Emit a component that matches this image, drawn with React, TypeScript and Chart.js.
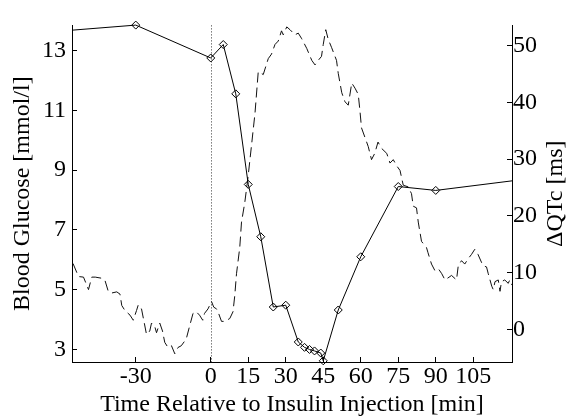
import { useEffect, useRef } from 'react';
import { Chart, registerables } from 'chart.js';

Chart.register(...registerables);

// ---- data ----
const GLUCOSE_T = [-55.5, -30, 0, 5, 10, 15, 20, 25, 30, 35, 37.5, 39.5, 41.5, 44, 45, 51, 60, 75, 90, 120.5];
const GLUCOSE_V = [13.68, 13.85, 12.75, 13.2, 11.55, 8.52, 6.77, 4.42, 4.48, 3.25, 3.07, 3.0, 2.95, 2.88, 2.62, 4.32, 6.1, 8.45, 8.32, 8.64];
const GLUCOSE_MARKER = [false, true, true, true, true, true, true, true, true, true, true, true, true, true, true, true, true, true, true, false];

const QTC_T = [
  -55.1, -52.9, -50.9, -48.9, -47.6, -46.2, -43.6, -42.3, -41.0, -39.6, -37.6, -36.3, -35.6, -34.3, -32.3, -31.0,
  -29.7, -29.0, -27.7, -26.8, -25.7, -24.4, -23.7, -22.4, -21.7, -20.4, -19.3, -18.4, -17.1, -15.7, -14.4, -13.1,
  -11.8, -9.8, -8.5, -7.1, -5.8, -4.5, -3.2, -2.5, -1.1, 0.3, 1.2, 2.3, 2.9, 4.3, 5.6, 7.6, 8.9, 9.6, 10.3, 11.6,
  12.3, 13.6, 14.9, 16.3, 17.7, 19.0, 21.0, 23.0, 24.3, 25.7, 27.0, 28.3, 29.0, 30.4, 31.7, 33.7, 35.0, 36.4, 38.4,
  40.4, 41.7, 43.0, 44.3, 45.0, 46.0, 47.0, 48.3, 50.3, 51.0, 52.4, 53.7, 55.0, 56.4, 57.7, 59.0, 59.7, 60.3, 61.7,
  63.0, 64.3, 65.6, 66.9, 68.3, 70.4, 71.7, 73.0, 74.4, 75.7, 77.0, 79.0, 80.3, 81.0, 82.3, 83.0, 84.3, 86.3, 86.9,
  88.3, 89.6, 91.0, 92.4, 93.7, 95.7, 96.3, 98.3, 99.0, 100.3, 101.6, 102.9, 104.3, 105.6, 106.9, 108.3, 108.9,
  110.3, 111.0, 112.4, 113.0, 113.7, 115.0, 115.7, 116.3, 117.6, 119.0, 119.6, 120.5
];
const QTC_V = [
  11.6, 9.3, 9.2, 7.0, 9.2, 9.2, 9.0, 8.6, 6.7, 6.4, 6.6, 6.2, 4.2, 3.3, 2.5, 1.6,
  3.3, 4.3, 3.6, 1.6, -0.9, -0.3, 1.1, 0.5, -0.6, 1.1, -0.3, -2.3, -3.2, -2.9, -4.3, -3.2,
  -2.9, -1.7, 0.5, 2.8, 3.1, 2.5, 1.6, 2.8, 3.6, 4.9, 3.9, 3.6, 3.1, 1.4, 1.4, 1.9, 3.1, 5.9, 9.8, 14.4,
  18.9, 22.3, 26.8, 32.4, 38.1, 45.4, 44.9, 47.7, 48.5, 50.2, 50.8, 52.6, 51.9, 53.3, 52.8, 51.9, 52.2, 51.2, 49.5,
  47.4, 46.6, 47.4, 48.1, 50.2, 52.8, 51.1, 49.7, 47.4, 45.1, 41.7, 40.1, 39.5, 43.4, 42.5, 41.4, 38.4, 35.5, 33.8,
  32.2, 29.9, 31.0, 33.0, 31.9, 31.0, 29.3, 29.9, 28.8, 28.0, 25.4, 25.1, 23.9, 21.7, 21.4, 18.9, 15.5, 14.4, 13.5,
  11.5, 10.4, 10.7, 9.8, 8.7, 9.3, 9.5, 8.7, 11.2, 12.1, 11.5, 12.4, 13.2, 14.1, 13.2, 11.8, 11.2,
  11.0, 9.8, 7.6, 7.0, 8.4, 8.7, 6.7, 8.4, 8.7, 8.1, 8.7, 7.8, 8.0
];

const X_TICKS = [-30, 0, 15, 30, 45, 60, 75, 90, 105];
const LEFT_TICKS = [3, 5, 7, 9, 11, 13];
const RIGHT_TICKS = [0, 10, 20, 30, 40, 50];

const X_TITLE = 'Time Relative to Insulin Injection [min]';
const LEFT_TITLE = 'Blood Glucose [mmol/l]';
const RIGHT_TITLE = '\u0394QTc [ms]';

const FONT = "'Liberation Serif', 'Times New Roman', serif";

export default function App() {
  const ref = useRef<HTMLCanvasElement | null>(null);

  useEffect(() => {
    if (!ref.current) return;

    const zeroLine = {
      id: 'zeroLine',
      beforeDatasetsDraw(chart: any) {
        const x = chart.scales.x.getPixelForValue(0);
        const { top, bottom } = chart.chartArea;
        const ctx = chart.ctx;
        ctx.save();
        ctx.strokeStyle = '#333';
        ctx.lineWidth = 1;
        ctx.setLineDash([1, 2]);
        ctx.beginPath();
        ctx.moveTo(Math.round(x) + 0.5, top);
        ctx.lineTo(Math.round(x) + 0.5, bottom);
        ctx.stroke();
        ctx.restore();
      },
    };

    const rightTitle = {
      id: 'rightTitle',
      afterDraw(chart: any) {
        const s = chart.scales.y2;
        const { top, bottom } = chart.chartArea;
        const ctx = chart.ctx;
        ctx.save();
        ctx.translate(s.right - 12, (top + bottom) / 2);
        ctx.rotate(-Math.PI / 2);
        ctx.font = `24px ${FONT}`;
        ctx.fillStyle = '#000';
        ctx.textAlign = 'center';
        ctx.textBaseline = 'middle';
        ctx.fillText(RIGHT_TITLE, 0, 0);
        ctx.restore();
      },
    };

    const tickFont = { family: FONT, size: 24 };
    const axisGrid = {
      drawOnChartArea: false,
      drawTicks: true,
      tickLength: -5,
      color: '#000',
      tickColor: '#000',
      lineWidth: 1,
    };
    const axisBorder = { display: true, color: '#000', width: 1 };

    const chart = new Chart(ref.current, {
      type: 'line',
      data: {
        datasets: [
          {
            label: 'Glucose',
            data: GLUCOSE_T.map((t, i) => ({ x: t, y: GLUCOSE_V[i] })),
            yAxisID: 'y',
            borderColor: '#000',
            borderWidth: 1,
            pointStyle: 'rectRot',
            pointRadius: GLUCOSE_MARKER.map((m) => (m ? 4 : 0)),
            pointBorderColor: '#000',
            pointBorderWidth: 1,
            pointBackgroundColor: 'rgba(0,0,0,0)',
            tension: 0,
            clip: { left: 0, right: 0, bottom: 6, top: 8 },
          },
          {
            label: 'QTc',
            data: QTC_T.map((t, i) => ({ x: t, y: QTC_V[i] })),
            yAxisID: 'y2',
            borderColor: '#111',
            borderWidth: 1,
            borderDash: [10, 5],
            pointRadius: 0,
            tension: 0,
          },
        ],
      },
      options: {
        animation: false,
        responsive: false,
        devicePixelRatio: 1,
        layout: { padding: { top: 12, left: 0, right: 0, bottom: 0 } },
        plugins: {
          legend: { display: false },
          tooltip: { enabled: false },
          title: { display: false },
        },
        scales: {
          x: {
            type: 'linear',
            min: -55.5,
            max: 120.5,
            afterBuildTicks: (s: any) => {
              s.ticks = X_TICKS.map((v) => ({ value: v }));
            },
            afterFit: (s: any) => {
              s.height = 55;
            },
            ticks: {
              font: tickFont,
              color: '#000',
              padding: 5,
              autoSkip: false,
              maxRotation: 0,
              minRotation: 0,
              callback: (v: any) => String(v),
            },
            grid: axisGrid,
            border: axisBorder,
            title: {
              display: true,
              text: X_TITLE,
              color: '#000',
              font: { family: FONT, size: 24, lineHeight: 1 },
              padding: { top: 0, bottom: 0 },
            },
          },
          y: {
            type: 'linear',
            position: 'left',
            min: 2.58,
            max: 13.84,
            afterBuildTicks: (s: any) => {
              s.ticks = LEFT_TICKS.map((v) => ({ value: v }));
            },
            afterFit: (s: any) => {
              s.width = 72;
            },
            ticks: {
              font: tickFont,
              color: '#000',
              padding: 11,
              callback: (v: any) => String(v),
            },
            grid: axisGrid,
            border: axisBorder,
            title: {
              display: true,
              text: LEFT_TITLE,
              color: '#000',
              font: { family: FONT, size: 24, lineHeight: 1 },
              padding: { top: 11, bottom: 0 },
            },
          },
          y2: {
            type: 'linear',
            position: 'right',
            min: -5.76,
            max: 53.56,
            afterBuildTicks: (s: any) => {
              s.ticks = RIGHT_TICKS.map((v) => ({ value: v }));
            },
            afterFit: (s: any) => {
              s.width = 56;
            },
            ticks: {
              font: tickFont,
              color: '#000',
              padding: 6,
              callback: (v: any) => String(v),
            },
            grid: axisGrid,
            border: axisBorder,
            title: { display: false },
          },
        },
      },
      plugins: [zeroLine, rightTitle],
    } as any);

    return () => chart.destroy();
  }, []);

  return (
    <canvas
      ref={ref}
      width={568}
      height={417}
      style={{ position: 'fixed', left: 0, top: 0, display: 'block', background: '#fff' }}
    />
  );
}
